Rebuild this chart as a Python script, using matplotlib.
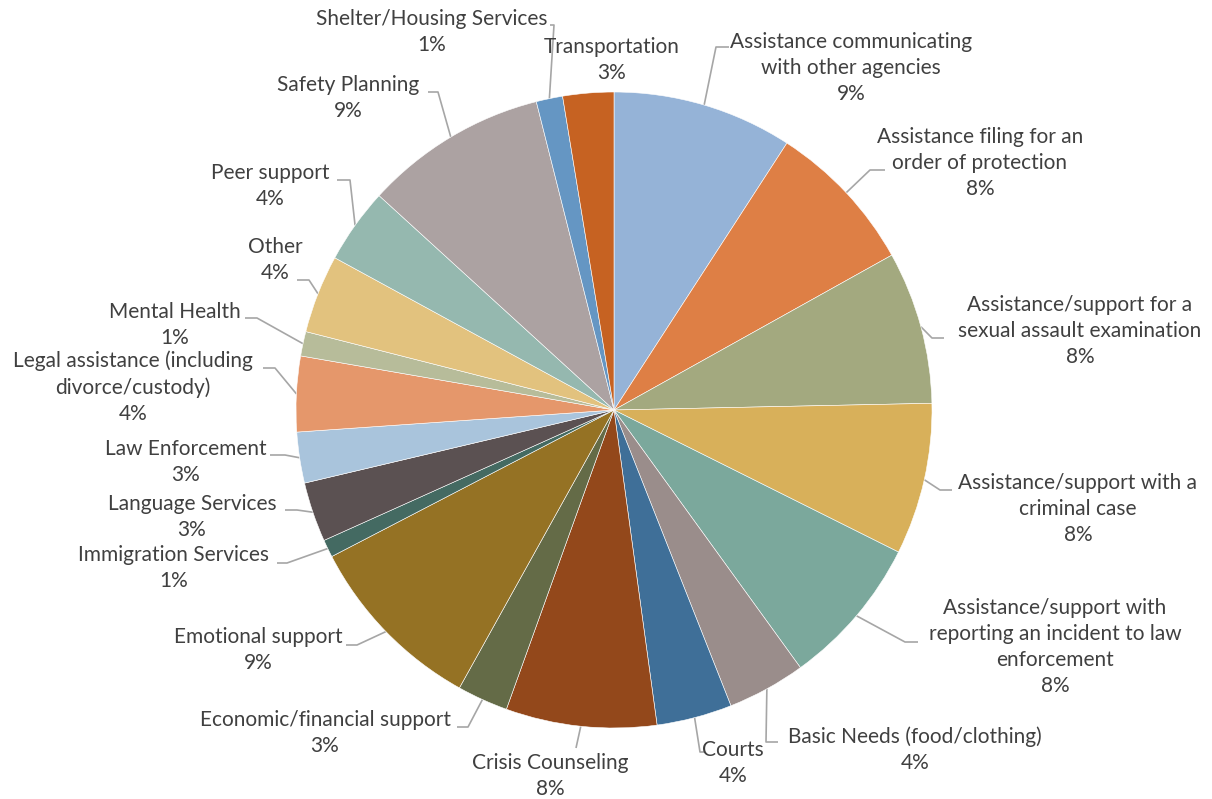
import numpy as np
import matplotlib
matplotlib.use("Agg")
import matplotlib.pyplot as plt

# services (clockwise from 12 o'clock), shares
services = [
    "Assistance communicating\nwith other agencies",
    "Assistance filing for an\norder of protection",
    "Assistance/support for a\nsexual assault examination",
    "Assistance/support with a\ncriminal case",
    "Assistance/support with\nreporting an incident to law\nenforcement",
    "Basic Needs (food/clothing)",
    "Courts",
    "Crisis Counseling",
    "Economic/financial support",
    "Emotional support",
    "Immigration Services",
    "Language Services",
    "Law Enforcement",
    "Legal assistance (including\ndivorce/custody)",
    "Mental Health",
    "Other",
    "Peer support",
    "Safety Planning",
    "Shelter/Housing Services",
    "Transportation",
]
shares = [9.2, 7.8, 7.8, 7.75, 7.7, 4.0, 3.85, 7.7, 2.6, 9.35,
          0.9, 3.05, 2.6, 3.85, 1.25, 4.0, 3.85, 9.35, 1.35, 2.6]

colors = ["#95B3D7", "#DE7F45", "#A3A97F", "#D8B05A", "#7BA89C", "#9A8D8B",
          "#3F6F98", "#93481B", "#646B47", "#957224", "#446A62", "#5B5152",
          "#A9C4DC", "#E5976B", "#B7BC9A", "#E2C27E", "#95B8AF", "#ACA2A2",
          "#6596C3", "#C66222"]

W, H = 1212, 799
def P(x, y):
    # pixel coords (top-left origin) -> data coords
    return x, H - y

# label layout, pixel positions of the text block centres
label_pos = [(851, 68), (980, 163), (1080, 331), (1078, 509), (1055, 647),
             (915, 750), (733, 763), (550, 776), (325, 733), (258, 650),
             (174, 568), (192, 517), (186, 462), (133, 387), (175, 325),
             (275, 260), (270, 186), (348, 98), (432, 32), (612, 60)]
# leader elbows and ends (pixels)
leaders = [((716, 47), (729, 47)), ((870, 170), (885, 170)),
           ((932, 338), (944, 338)), ((940, 490), (952, 490)),
           ((905, 642), (918, 642)), ((766, 742), (778, 742)),
           ((700, 752), (704, 752)), ((576, 748), (576, 748)),
           ((468, 727), (457, 727)), ((357, 645), (346, 645)),
           ((287, 563), (277, 563)), ((297, 510), (285, 510)),
           ((285, 455), (270, 455)), ((275, 368), (263, 368)),
           ((257, 318), (245, 318)), ((309, 280), (297, 280)),
           ((350, 180), (337, 180)), ((438, 92), (428, 92)),
           ((554, 25), (550, 25)), None]

cx, cy = P(614, 410)
R = 318

fig = plt.figure(figsize=(W / 100, H / 100), dpi=100)
ax = fig.add_axes([0, 0, 1, 1])
wedges, _ = ax.pie(shares, colors=colors, startangle=90, counterclock=False,
                   center=(cx, cy), radius=R,
                   wedgeprops=dict(edgecolor="white", linewidth=0.4))
ax.set_xlim(0, W)
ax.set_ylim(0, H)
ax.set_aspect("equal")
ax.axis("off")

total = sum(shares)
for i, w in enumerate(wedges):
    pct = int(round(shares[i] / total * 100))
    x, y = P(*label_pos[i])
    ax.text(x, y, f"{services[i]}\n{pct}%", ha="center", va="center",
            fontsize=15, family="Lato", color="#404040", linespacing=1.37)
    if leaders[i] is None:
        continue
    mid = np.deg2rad((w.theta1 + w.theta2) / 2)
    sx, sy = cx + R * np.cos(mid), cy + R * np.sin(mid)
    ex, ey = P(*leaders[i][0])
    fx, fy = P(*leaders[i][1])
    ax.plot([sx, ex, fx], [sy, ey, fy], color="#A6A6A6", lw=1.2,
            solid_capstyle="butt", zorder=0)

fig.savefig("out.png", dpi=100)
